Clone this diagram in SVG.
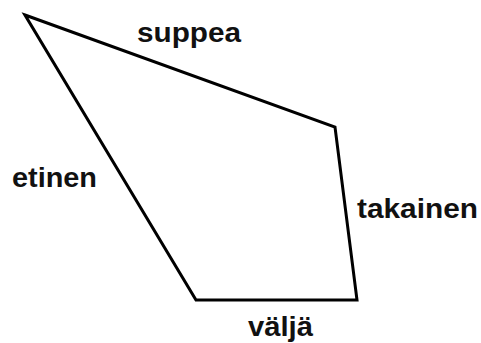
<svg xmlns="http://www.w3.org/2000/svg" width="481" height="343" viewBox="0 0 481 343">
<style>
.edge{fill:none;stroke:#000;stroke-width:3;stroke-linejoin:miter}
.lbl{font-family:"Liberation Sans",Arial,sans-serif;font-weight:bold;font-size:27px;fill:#111}
</style>
<rect width="481" height="343" fill="#fff"/>
<g id="connectors">
<polygon class="edge" points="25,15 335,127 357,300 196,300"/>
</g>
<g id="suppea"><text class="lbl" x="137" y="42" textLength="104" lengthAdjust="spacingAndGlyphs">suppea</text></g>
<g id="etinen"><text class="lbl" x="12" y="187" textLength="85" lengthAdjust="spacingAndGlyphs">etinen</text></g>
<g id="takainen"><text class="lbl" x="357" y="218" textLength="121" lengthAdjust="spacingAndGlyphs">takainen</text></g>
<g id="valja"><text class="lbl" x="248" y="336" textLength="65" lengthAdjust="spacingAndGlyphs">väljä</text></g>
</svg>
